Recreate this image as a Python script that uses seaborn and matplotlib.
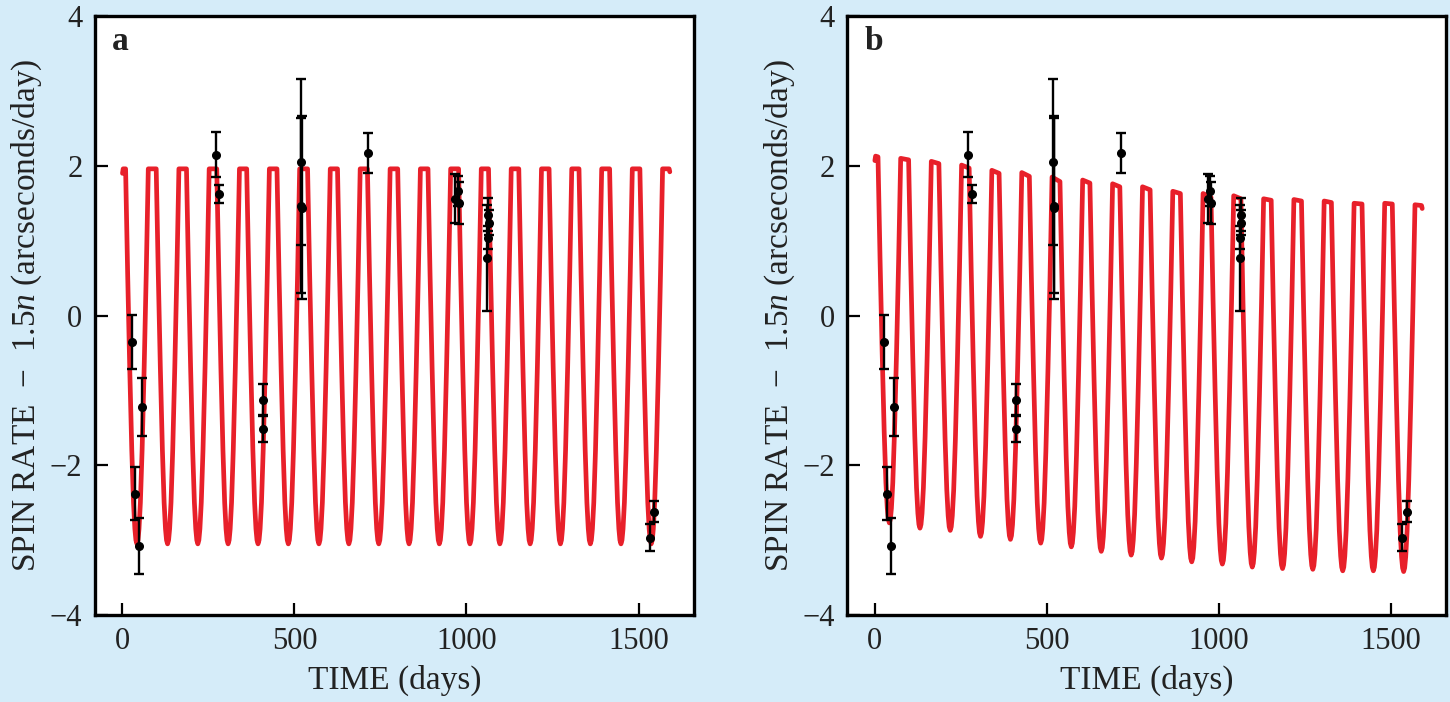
import numpy as np
import pandas as pd
import seaborn as sns
import matplotlib
matplotlib.use("Agg")
import matplotlib.pyplot as plt

# times of the dips (days), same in both panels
dip_days = [42, 131, 219, 307, 394, 482, 571, 658, 745, 833,
            921, 1010, 1097, 1185, 1273, 1360, 1449, 1537]

# panel a: constant model
plateau_a_start = [1.96] * 19
plateau_a_end = [1.96] * 19
low_a = [-3.05] * 18

# panel b: damped model, plateau (start/end of each flat top) and dip minima
plateau_b_start = [2.13, 2.10, 2.06, 2.01, 1.94, 1.91, 1.85, 1.81, 1.76, 1.72,
                   1.66, 1.63, 1.60, 1.56, 1.55, 1.53, 1.50, 1.50, 1.48]
plateau_b_end = [2.12, 2.08, 2.03, 1.97, 1.90, 1.86, 1.79, 1.77, 1.72, 1.68,
                 1.63, 1.58, 1.56, 1.54, 1.53, 1.51, 1.49, 1.49, 1.47]
low_b = [-2.77, -2.84, -2.87, -2.95, -2.99, -3.04, -3.09, -3.15, -3.20, -3.24,
         -3.29, -3.32, -3.36, -3.38, -3.39, -3.41, -3.41, -3.42]

# shape of one dip: offset from minimum (days), fraction of depth
dip_offset = [-33, -27, -21, -15, -10, -6, -3, 0, 3, 6, 10, 15, 21, 27, 33]
dip_depth = [0.0, 0.28, 0.53, 0.75, 0.89, 0.96, 0.99, 1.0,
             0.99, 0.96, 0.89, 0.75, 0.53, 0.28, 0.0]

# observations
obs_days = [27, 35, 47, 56, 271, 281, 409, 409, 519, 520, 522, 715,
            968, 975, 978, 1060, 1062, 1063, 1065, 1533, 1546]
obs_rate = [-0.35, -2.38, -3.08, -1.22, 2.15, 1.63, -1.13, -1.51, 2.05, 1.47, 1.44, 2.17,
            1.56, 1.67, 1.50, 0.77, 1.04, 1.35, 1.24, -2.97, -2.62]
obs_err = [0.36, 0.35, 0.37, 0.39, 0.30, 0.12, 0.21, 0.18, 1.11, 1.17, 1.22, 0.27,
           0.33, 0.20, 0.28, 0.71, 0.15, 0.22, 0.17, 0.18, 0.14]

panel_labels = ["a", "b"]


def build_curve(p_start, p_end, lows):
    t = [0, 2]
    v = [p_start[0] - 0.06, p_start[0]]
    for k, tm in enumerate(dip_days):
        for off, f in zip(dip_offset, dip_depth):
            top = p_end[k] if off < 0 else p_start[k + 1]
            t.append(tm + off)
            v.append(top + f * (lows[k] - top))
    t += [1589, 1591]
    v += [p_end[-1], p_end[-1] - 0.04]
    return pd.DataFrame({"time": t, "rate": v})


curves = [build_curve(plateau_a_start, plateau_a_end, low_a),
          build_curve(plateau_b_start, plateau_b_end, low_b)]

sns.set_theme(style="ticks")
plt.rcParams["font.family"] = ["Liberation Serif", "DejaVu Serif"]
plt.rcParams["mathtext.fontset"] = "custom"
plt.rcParams["mathtext.rm"] = "Liberation Serif"
plt.rcParams["mathtext.it"] = "Liberation Serif:italic"

bg = "#d5ecf9"
fig, axes = plt.subplots(1, 2, figsize=(14.5, 7.02), dpi=100, facecolor=bg)
fig.subplots_adjust(left=0.0655, right=0.9972, bottom=0.124, top=0.977, wspace=0.257)

for ax, df, lab in zip(axes, curves, panel_labels):
    ax.set_facecolor("white")
    sns.lineplot(data=df, x="time", y="rate", ax=ax, color="#e8202a", lw=3.4,
                 sort=False, estimator=None, solid_joinstyle="round")
    ax.errorbar(obs_days, obs_rate, yerr=obs_err, fmt="o", color="black",
                ms=5.5, elinewidth=1.7, capsize=3.5, capthick=1.7, zorder=5)
    ax.set_xlim(-80, 1660)
    ax.set_ylim(-4, 4)
    ax.set_xticks([0, 500, 1000, 1500])
    ax.set_yticks([-4, -2, 0, 2, 4])
    ax.tick_params(direction="in", length=9, width=1.6, labelsize=22, pad=9,
                   colors="black", labelcolor="#222222", top=False, right=False)
    for s in ax.spines.values():
        s.set_linewidth(2.4)
        s.set_color("black")
    ax.set_xlabel("TIME (days)", fontsize=24, color="#222222", labelpad=6)
    ax.set_ylabel("SPIN RATE  \u2212  1.5$n$ (arcseconds/day)", fontsize=24,
                  color="#222222", labelpad=4)
    ax.text(0.028, 0.943, lab, transform=ax.transAxes, fontsize=24,
            fontweight="bold", ha="left", va="baseline", color="#222222")

fig.savefig("out.png", dpi=100, facecolor=bg)
